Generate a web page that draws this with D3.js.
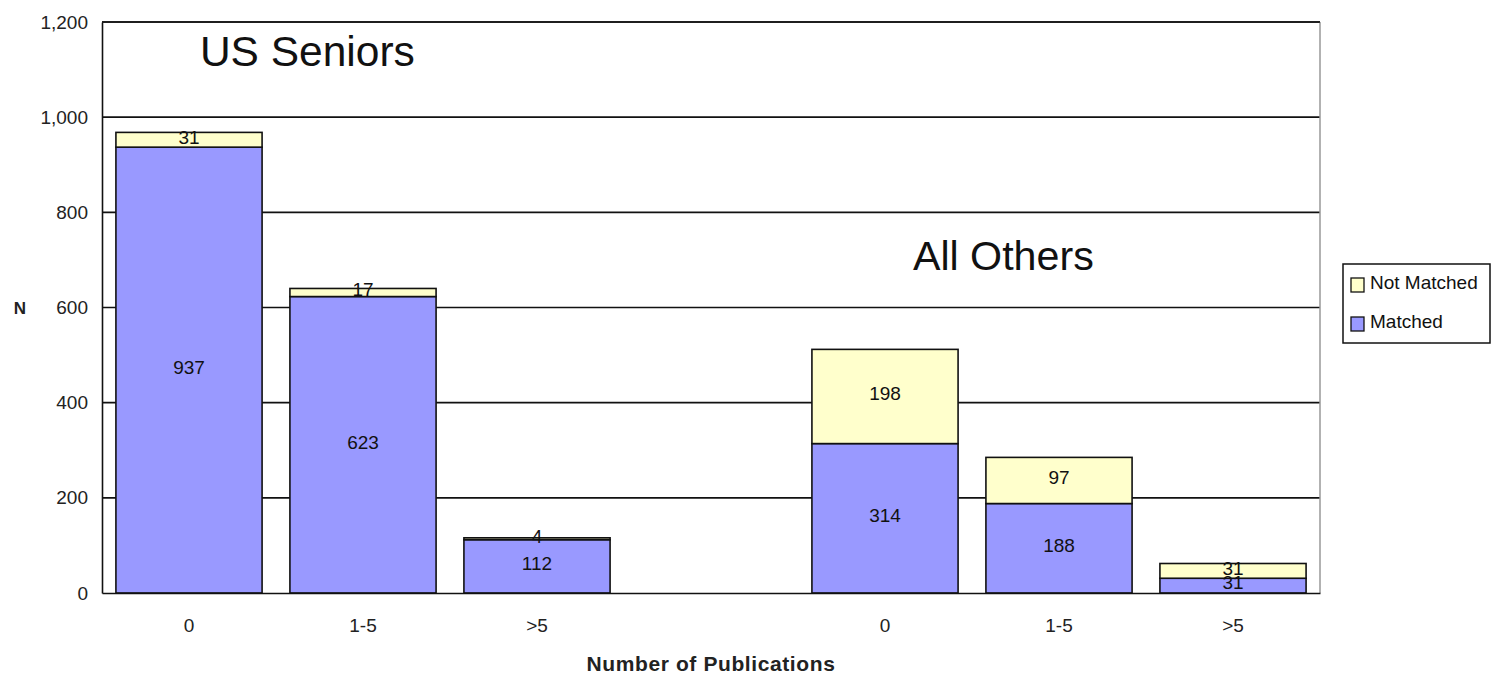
<!DOCTYPE html>
<html>
<head>
<meta charset="utf-8">
<script src="https://cdn.jsdelivr.net/npm/d3@7"></script>
<style>
  html, body { margin: 0; padding: 0; background: #fff; }
  svg { display: block; font-family: "Liberation Sans", Arial, sans-serif; }
</style>
</head>
<body>
<svg id="chart" width="1492" height="675"></svg>
<script>
// ---- data ----
const slots = ["US-0", "US-1-5", "US->5", "gap", "AO-0", "AO-1-5", "AO->5"];
const tickLabels = ["0", "1-5", ">5", "", "0", "1-5", ">5"];
const matched = [937, 623, 112, null, 314, 188, 31];
const notMatched = [31, 17, 4, null, 198, 97, 31];
const seriesNames = ["Not Matched", "Matched"];
const seriesColors = ["#FFFFCC", "#9999FF"];
const yTicks = [0, 200, 400, 600, 800, 1000, 1200];
const groupLabels = ["US Seniors", "All Others"];

// ---- layout ----
const svg = d3.select("#chart");
const pLeft = 102, pRight = 1320, pTop = 22, pBottom = 593;

const x = d3.scaleBand().domain(slots).range([pLeft, pRight]).paddingInner(0.16).paddingOuter(0.08);
const y = d3.scaleLinear().domain([0, 1200]).range([pBottom, pTop]);

// grid lines
svg.append("g").selectAll("line").data(yTicks.filter(d => d > 0)).join("line")
  .attr("x1", pLeft).attr("x2", pRight)
  .attr("y1", d => y(d)).attr("y2", d => y(d))
  .attr("stroke", "#111").attr("stroke-width", 1.6);

// right border (gray)
svg.append("line").attr("x1", pRight).attr("x2", pRight).attr("y1", pTop).attr("y2", pBottom)
  .attr("stroke", "#999").attr("stroke-width", 1.5);

// data rows
const rows = slots.map((s, i) => ({ slot: s, matched: matched[i], notMatched: notMatched[i] }))
  .filter(d => d.matched != null);

const stacked = d3.stack().keys(["matched", "notMatched"])(rows);
const colorFor = { matched: seriesColors[1], notMatched: seriesColors[0] };

const barG = svg.append("g");
stacked.forEach(layer => {
  barG.append("g").selectAll("rect").data(layer).join("rect")
    .attr("x", d => x(d.data.slot))
    .attr("width", x.bandwidth())
    .attr("y", d => y(d[1]))
    .attr("height", d => y(d[0]) - y(d[1]))
    .attr("fill", colorFor[layer.key])
    .attr("stroke", "#111")
    .attr("stroke-width", 1.6);
});

// segment labels
stacked.forEach(layer => {
  barG.append("g").selectAll("text").data(layer).join("text")
    .attr("x", d => x(d.data.slot) + x.bandwidth() / 2)
    .attr("y", d => y((d[0] + d[1]) / 2))
    .attr("dy", "0.2em")
    .attr("text-anchor", "middle")
    .attr("font-size", 19)
    .attr("fill", "#111")
    .text(d => d.data[layer.key]);
});

// axes
const yAxis = d3.axisLeft(y).tickValues(yTicks).tickSize(0).tickPadding(14).tickFormat(d3.format(","));
const yg = svg.append("g").attr("transform", `translate(${pLeft},0)`).call(yAxis);
yg.select(".domain").attr("stroke", "#111").attr("stroke-width", 1.6);
yg.selectAll("text").attr("font-size", 19).attr("fill", "#222").attr("font-family", "Liberation Sans, Arial, sans-serif");

const xAxis = d3.axisBottom(x).tickSize(0).tickPadding(26).tickFormat((d, i) => tickLabels[i]);
const xg = svg.append("g").attr("transform", `translate(0,${pBottom})`).call(xAxis);
xg.select(".domain").attr("stroke", "#111").attr("stroke-width", 1.6);
xg.selectAll("text").attr("font-size", 19).attr("fill", "#222").attr("font-family", "Liberation Sans, Arial, sans-serif");

// top border
svg.append("line").attr("x1", pLeft).attr("x2", pRight).attr("y1", pTop).attr("y2", pTop)
  .attr("stroke", "#111").attr("stroke-width", 1.6);

// group labels
svg.append("text").attr("x", x("US-0") + 84).attr("y", 66)
  .attr("font-size", 42.5).attr("fill", "#111").text(groupLabels[0]);
svg.append("text").attr("x", x("AO-0") + 101).attr("y", 270)
  .attr("font-size", 41.2).attr("fill", "#111").text(groupLabels[1]);

// axis titles
svg.append("text").attr("x", 20).attr("y", 314).attr("text-anchor", "middle")
  .attr("font-size", 17).attr("font-weight", "bold").attr("fill", "#222").text("N");
svg.append("text").attr("x", (pLeft + pRight) / 2).attr("y", 671).attr("text-anchor", "middle")
  .attr("font-size", 21).attr("font-weight", "bold").attr("letter-spacing", 0.6)
  .attr("fill", "#222").text("Number of Publications");

// legend
const lg = svg.append("g");
lg.append("rect").attr("x", 1343).attr("y", 264).attr("width", 147).attr("height", 79)
  .attr("fill", "#fff").attr("stroke", "#111").attr("stroke-width", 1.5);
seriesNames.forEach((name, i) => {
  const yy = 278 + i * 39;
  lg.append("rect").attr("x", 1351).attr("y", yy).attr("width", 13).attr("height", 14)
    .attr("fill", seriesColors[i]).attr("stroke", "#111").attr("stroke-width", 1.3);
  lg.append("text").attr("x", 1370).attr("y", yy + 11).attr("font-size", 19)
    .attr("fill", "#111").text(name);
});
</script>
</body>
</html>
